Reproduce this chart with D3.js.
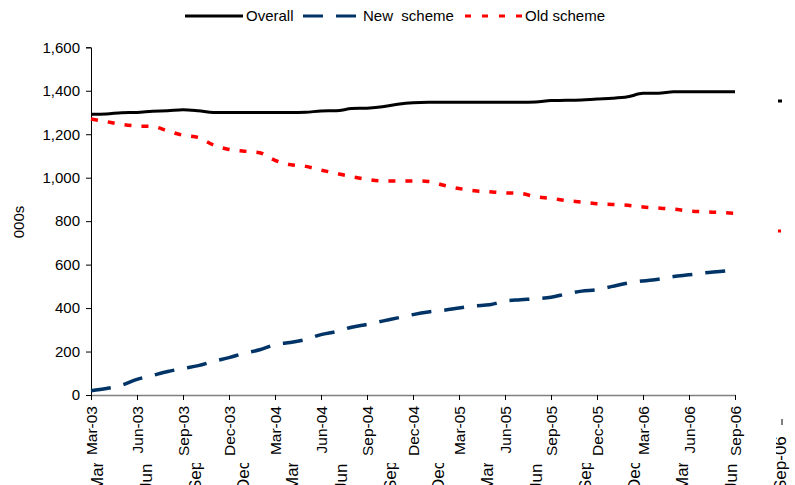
<!DOCTYPE html>
<html>
<head>
<meta charset="utf-8">
<script src="https://cdn.jsdelivr.net/npm/d3@7"></script>
<style>
  html, body { margin: 0; padding: 0; background: #fff; }
  svg { display: block; font-family: "Liberation Sans", Arial, sans-serif; }
</style>
</head>
<body>
<svg id="chart" width="795" height="485"></svg>
<script>
const months = ["Mar-03","Apr-03","May-03","Jun-03","Jul-03","Aug-03","Sep-03","Oct-03","Nov-03","Dec-03",
  "Jan-04","Feb-04","Mar-04","Apr-04","May-04","Jun-04","Jul-04","Aug-04","Sep-04","Oct-04","Nov-04","Dec-04",
  "Jan-05","Feb-05","Mar-05","Apr-05","May-05","Jun-05","Jul-05","Aug-05","Sep-05","Oct-05","Nov-05","Dec-05",
  "Jan-06","Feb-06","Mar-06","Apr-06","May-06","Jun-06","Jul-06","Aug-06","Sep-06"];
const tickLabels = ["Mar-03","Jun-03","Sep-03","Dec-03","Mar-04","Jun-04","Sep-04","Dec-04",
  "Mar-05","Jun-05","Sep-05","Dec-05","Mar-06","Jun-06","Sep-06"];
const yTicks = [0, 200, 400, 600, 800, 1000, 1200, 1400, 1600];

const overall = [1292,1293,1299,1300,1306,1308,1313,1308,1300,1300,1300,1300,1300,1300,1301,1307,1308,1318,1320,1326,1338,1345,
  1347,1347,1347,1347,1347,1347,1347,1348,1355,1356,1358,1362,1365,1372,1388,1389,1395,1396,1396,1396,1396];
const newScheme = [20,30,45,72,90,108,122,135,155,172,192,208,232,242,255,278,292,312,325,340,355,370,
  382,390,400,410,415,432,438,443,450,465,478,485,500,515,525,533,545,553,562,568,575];
const oldScheme = [1270,1258,1245,1238,1236,1215,1195,1185,1150,1130,1122,1115,1080,1060,1052,1035,1020,1005,992,985,985,985,
  983,965,950,940,935,930,928,912,905,895,888,880,877,873,865,860,855,847,843,840,836];

const seriesNames = ["Overall", "New scheme", "Old scheme"];
const seriesColors = ["#000000", "#003366", "#ff0000"];

const svg = d3.select("#chart");
const FS = 15;
const XFS = 15.5;

// ---- ghost layer (artifact of an underlying, slightly larger copy) ----
const gx = d3.scalePoint().domain(tickLabels).range([97, 780]);
const ghost = svg.append("g");
ghost.selectAll("text").data(tickLabels).join("text")
  .attr("transform", d => `translate(${gx(d)},491) rotate(-90)`)
  .attr("dy", "0.35em")
  .attr("text-anchor", "start")
  .attr("font-size", 17)
  .attr("fill", "#000")
  .text(d => d);
ghost.append("line").attr("x1", 782).attr("x2", 782).attr("y1", 419).attr("y2", 425)
  .attr("stroke", "#000").attr("stroke-width", 1);
ghost.append("line").attr("x1", 778).attr("x2", 782).attr("y1", 101).attr("y2", 101)
  .attr("stroke", "#000").attr("stroke-width", 3);
ghost.append("line").attr("x1", 778).attr("x2", 781).attr("y1", 231).attr("y2", 231)
  .attr("stroke", "#ff0000").attr("stroke-width", 3);
// main chart background covering the ghost
svg.append("rect").attr("x", 0).attr("y", 0).attr("width", 776).attr("height", 463).attr("fill", "#fff");

// ---- scales ----
const x = d3.scalePoint().domain(months).range([91, 735]);
const y = d3.scaleLinear().domain([0, 1600]).range([395, 47.3]);

// ---- axes ----
const yAxis = svg.append("g").attr("transform", "translate(91,0)")
  .call(d3.axisLeft(y).tickValues(yTicks).tickSize(5).tickPadding(6).tickFormat(d3.format(",")));
yAxis.select(".domain").attr("stroke", "#000");
yAxis.selectAll(".tick line").attr("stroke", "#000");
yAxis.selectAll("text").attr("font-size", FS).attr("fill", "#000")
  .attr("font-family", "Liberation Sans, Arial, sans-serif");

const xAxis = svg.append("g").attr("transform", "translate(0,395)")
  .call(d3.axisBottom(x).tickValues(tickLabels).tickSize(5).tickSizeOuter(0));
xAxis.select(".domain").attr("stroke", "#808080").attr("stroke-width", 1.5);
xAxis.selectAll(".tick line").attr("stroke", "#000");
xAxis.selectAll("text")
  .attr("font-size", XFS).attr("fill", "#000")
  .attr("font-family", "Liberation Sans, Arial, sans-serif")
  .attr("text-anchor", "end")
  .attr("transform", "rotate(-90)")
  .attr("x", -11).attr("y", 0).attr("dy", "0.35em");

// y title
svg.append("text")
  .attr("transform", "translate(19,222) rotate(-90)")
  .attr("text-anchor", "middle").attr("dy", "0.35em")
  .attr("font-size", FS).text("000s");

// ---- lines ----
const line = d3.line().x((d, i) => x(months[i])).y(d => y(d)).curve(d3.curveMonotoneX);
const dashes = [null, "20,13", "7,10"];
const widths = [3, 3.5, 3.5];
[overall, newScheme, oldScheme].forEach((s, k) => {
  svg.append("path").datum(s)
    .attr("d", line)
    .attr("fill", "none")
    .attr("stroke", seriesColors[k])
    .attr("stroke-width", widths[k])
    .attr("stroke-dasharray", dashes[k]);
});

// ---- legend ----
const legendItems = [
  {x1: 185, x2: 243, tx: 246},
  {x1: 303, x2: 357, tx: 363},
  {x1: 465, x2: 522, tx: 525}
];
const lg = svg.append("g");
legendItems.forEach((it, k) => {
  lg.append("line").attr("x1", it.x1).attr("x2", it.x2).attr("y1", 16).attr("y2", 16)
    .attr("stroke", seriesColors[k]).attr("stroke-width", 3)
    .attr("stroke-dasharray", k === 1 ? "20,13" : (k === 2 ? "6,11" : null));
  lg.append("text").attr("x", it.tx).attr("y", 16).attr("dy", "0.35em")
    .attr("font-size", FS).attr("fill", "#000")
    .attr("xml:space", "preserve")
    .text(k === 1 ? "New  scheme" : seriesNames[k]);
});
</script>
</body>
</html>
